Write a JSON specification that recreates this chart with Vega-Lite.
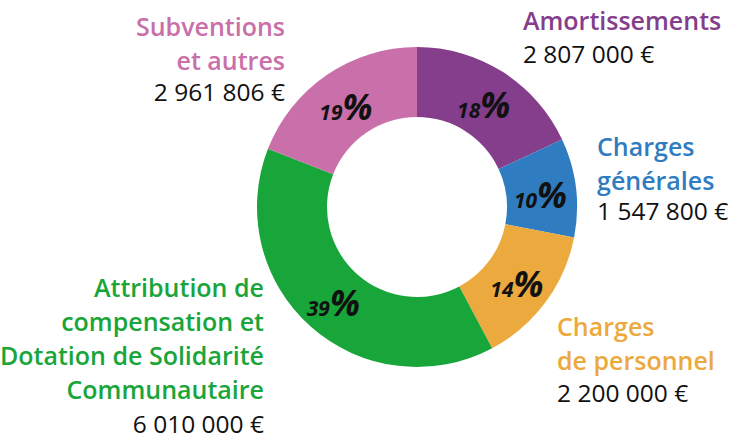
{
  "$schema": "https://vega.github.io/schema/vega-lite/v6.json",
  "autosize": "none",
  "width": 624,
  "height": 414,
  "padding": {"left": 105, "top": 0, "right": 0, "bottom": 26},
  "background": "white",
  "config": {"view": {"stroke": null}},
  "data": {
    "values": [
      {"i": 0, "cat": "Amortissements", "title": "Amortissements", "amount": "2 807 000 €", "value": 2807000, "pct": "18"},
      {"i": 1, "cat": "Charges générales", "title": "Charges\ngénérales", "amount": "1 547 800 €", "value": 1547800, "pct": "10"},
      {"i": 2, "cat": "Charges de personnel", "title": "Charges\nde personnel", "amount": "2 200 000 €", "value": 2200000, "pct": "14"},
      {"i": 3, "cat": "Attribution de compensation et Dotation de Solidarité Communautaire", "title": "Attribution de\ncompensation et\nDotation de Solidarité\nCommunautaire", "amount": "6 010 000 €", "value": 6010000, "pct": "39"},
      {"i": 4, "cat": "Subventions et autres", "title": "Subventions\net autres", "amount": "2 961 806 €", "value": 2961806, "pct": "19"}
    ]
  },
  "encoding": {
    "theta": {"field": "value", "type": "quantitative", "stack": true},
    "order": {"field": "i", "type": "quantitative"},
    "detail": {"field": "cat", "type": "nominal"}
  },
  "layer": [
    {
      "mark": {"type": "arc", "innerRadius": 90, "outerRadius": 160},
      "encoding": {
        "color": {
          "field": "cat", "type": "nominal", "legend": null,
          "scale": {
            "domain": ["Amortissements", "Charges générales", "Charges de personnel", "Attribution de compensation et Dotation de Solidarité Communautaire", "Subventions et autres"],
            "range": ["#843e8c", "#2f7dc0", "#eca93e", "#18a53a", "#c96fa9"]
          }
        }
      }
    },
    {
      "mark": {
        "type": "text", "radius": 200, "font": "Open Sans", "fontSize": 25, "fontWeight": 600,
        "lineBreak": "\n", "lineHeight": 34, "baseline": "bottom",
        "align": {"expr": "datum.i >= 3 ? 'right' : 'left'"},
        "dx": {"expr": "[-1.6, -18.5, -20.8, -20.1, -19.2][datum.i]"},
        "dy": {"expr": "[-2.9, -21.7, 15, -54.5, -0.9][datum.i]"}
      },
      "encoding": {
        "text": {"field": "title", "type": "nominal"},
        "color": {"field": "cat", "type": "nominal", "legend": null}
      }
    },
    {
      "mark": {
        "type": "text", "radius": 200, "font": "Open Sans", "fontSize": 24.5, "fontWeight": 400,
        "baseline": "alphabetic",
        "align": {"expr": "datum.i >= 3 ? 'right' : 'left'"},
        "dx": {"expr": "[-1.6, -18.5, -20.8, -20.1, -19.2][datum.i]"},
        "dy": {"expr": "[24.6, 37.3, 76, 76.5, 59.6][datum.i]"}
      },
      "encoding": {
        "text": {"field": "amount", "type": "nominal"},
        "color": {"value": "#111111"}
      }
    },
    {
      "mark": {
        "type": "text", "radius": 125, "font": "Open Sans", "fontSize": 21, "fontStyle": "italic", "fontWeight": "bold",
        "align": "right", "baseline": "alphabetic", "dx": -4, "dy": 16
      },
      "encoding": {
        "text": {"field": "pct", "type": "nominal"},
        "color": {"value": "#111111"}
      }
    },
    {
      "mark": {
        "type": "text", "radius": 125, "font": "Open Sans", "fontSize": 35, "fontStyle": "italic", "fontWeight": "bold",
        "align": "left", "baseline": "alphabetic", "dx": -4, "dy": 16
      },
      "encoding": {
        "text": {"value": "%"},
        "color": {"value": "#111111"}
      }
    }
  ]
}
